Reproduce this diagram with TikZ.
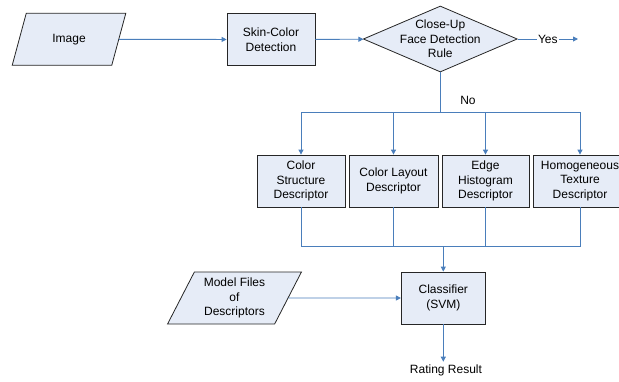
\documentclass[tikz,border=0pt]{standalone}
\usepackage{fontspec}
\setmainfont{Liberation Sans}
\usepackage{xcolor}
\usetikzlibrary{shapes.geometric,arrows.meta}

\definecolor{boxfill}{HTML}{E6ECF7}
\definecolor{flowblue}{HTML}{4A7EBB}

\tikzset{
  box/.style={draw=black!85, line width=0.8pt, fill=boxfill, minimum height=52pt, inner sep=0pt, align=center},
  iobox/.style={box, trapezium, trapezium left angle=63, trapezium right angle=117, trapezium stretches=true},
  decision/.style={draw=black!85, line width=0.8pt, fill=boxfill, diamond, minimum width=154pt, minimum height=66pt, inner sep=0pt},
  line/.style={draw=flowblue, line width=0.9pt},
  flow/.style={line, -{Triangle[length=5pt,width=5pt]}}
}

\begin{document}
\begin{tikzpicture}[x=1pt, y=-1pt, every node/.style={font=\fontsize{12}{14.5}\selectfont}]
        \useasboundingbox (0,0) rectangle (619,381);
        \clip (0,0) rectangle (619,381);

        % Detection stage
        \node[iobox, minimum width=114pt] (img) at (69,39.3) {Image};
        \node[box, minimum width=88pt] (skin) at (271,39.5) {Skin-Color\\Detection};
        \node[decision, label={[align=center]center:Close-Up\\Face Detection\\Rule}] (rule) at (440.3,39) {};
        \coordinate (yes) at (578,39);
        \coordinate (fork) at (440.3,112);
        \node (nolbl) at (468,100) {No};

        % Descriptors
        \node[box, minimum width=88pt] (csd) at (301,181) {Color\\Structure\\Descriptor};
        \node[box, minimum width=89pt] (cld) at (393.5,181) {Color Layout\\Descriptor};
        \node[box, minimum width=87pt] (ehd) at (485.5,181) {Edge\\Histogram\\Descriptor};
        \node[box, minimum width=94pt] (htd) at (580,181) {Homogeneous\\Texture\\Descriptor};
        \coordinate (merge) at (443.3,246.7);

        % Classification
        \node[iobox, minimum width=134pt] (model) at (234.5,298) {Model Files\\of\\Descriptors};
        \node[box, minimum width=84pt] (svm) at (443.3,298) {Classifier\\(SVM)};
        \node[inner sep=3pt] (result) at (446,370.5) {Rating Result};

        \draw[flow] (img) -- (skin);
        \draw[flow] (skin) -- (rule);
        \draw[flow] (rule) -- node[fill=white, inner sep=1pt] {Yes} (yes);
        \draw[line, line width=1.5pt] (rule.south) -- (fork);
        \draw[line] (fork -| csd) -- (fork -| htd);
        \draw[flow] (fork -| csd) -- (csd);
        \draw[flow] (fork -| cld) -- (cld);
        \draw[flow] (fork -| ehd) -- (ehd);
        \draw[flow] (fork -| htd) -- (htd);
        \draw[line] (csd) -- (csd |- merge);
        \draw[line] (cld) -- (cld |- merge);
        \draw[line] (ehd) -- (ehd |- merge);
        \draw[line] (htd) -- (htd |- merge);
        \draw[line] (merge -| csd) -- (merge -| htd);
        \draw[flow] (merge) -- (svm);
        \draw[flow] (model) -- (svm);
        \draw[flow] (svm) -- (svm |- result.north);
    \end{tikzpicture}
\end{document}
